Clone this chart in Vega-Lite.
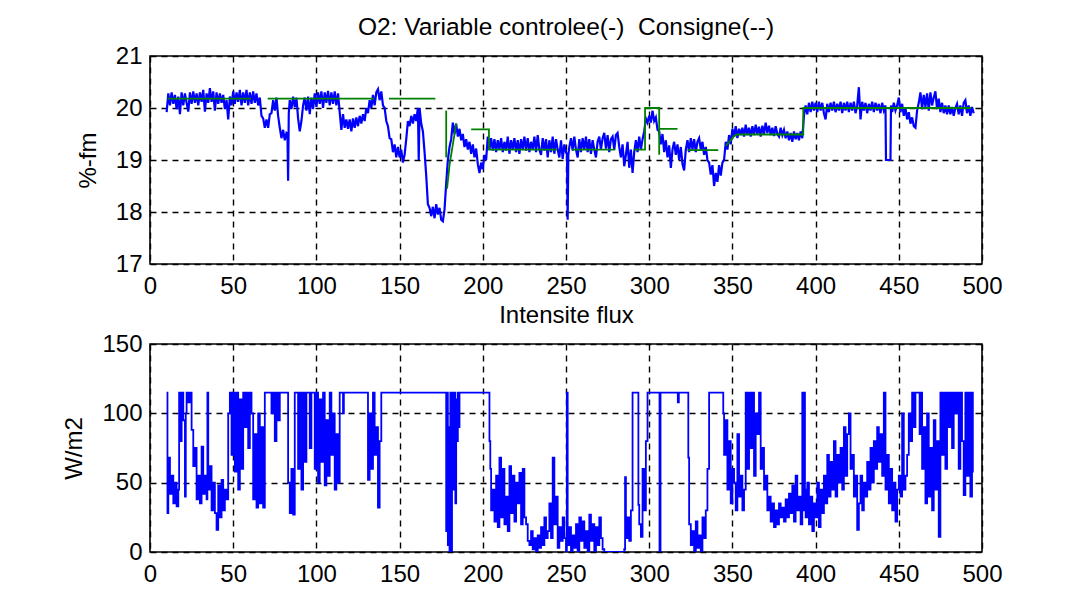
{
  "$schema": "https://vega.github.io/schema/vega-lite/v6.json",
  "background": "white",
  "padding": {"left": 62, "top": 13, "right": 5, "bottom": 5},
  "autosize": {"type": "pad"},
  "config": {
    "font": "Liberation Sans",
    "view": {"stroke": "#000000", "strokeWidth": 1.6},
    "axis": {"domain": false, "ticks": false, "grid": true, "gridColor": "#000000", "gridDash": [6, 5], "gridWidth": 1.4, "gridOpacity": 1, "labelFont": "Liberation Sans", "labelFontSize": 24, "labelColor": "#000000", "labelFlush": false, "labelBound": false, "titleFont": "Liberation Sans", "titleFontSize": 24, "titleFontWeight": "normal", "titleColor": "#000000", "format": "d"},
    "axisX": {"labelPadding": 10, "titlePadding": 5},
    "axisY": {"labelPadding": 8, "titlePadding": 15},
    "title": {"font": "Liberation Sans", "fontSize": 24.5, "fontWeight": "normal", "color": "#000000", "offset": 4, "frame": "group", "anchor": "middle"},
    "concat": {"spacing": 3}
  },
  "datasets": {
    "o2": [
      {"t":10,"v":19.92},{"t":11,"v":20.28},{"t":12,"v":20.05},{"t":13,"v":20.3},{"t":14,"v":20.08},{"t":15,"v":20.25},{"t":16,"v":19.98},{"t":17,"v":20.22},{"t":18,"v":19.88},{"t":19,"v":20.3},
      {"t":20,"v":20.05},{"t":21,"v":20.28},{"t":22,"v":20.1},{"t":23,"v":19.93},{"t":24,"v":20.3},{"t":25,"v":20.08},{"t":26,"v":20.32},{"t":27,"v":20.1},{"t":28,"v":20.28},{"t":29,"v":20.05},
      {"t":30,"v":20.3},{"t":31,"v":20.12},{"t":32,"v":20.35},{"t":33,"v":19.93},{"t":34,"v":20.28},{"t":35,"v":20.1},{"t":36,"v":20.38},{"t":37,"v":20.12},{"t":38,"v":20.32},{"t":39,"v":19.95},
      {"t":40,"v":20.3},{"t":41,"v":20.08},{"t":42,"v":20.28},{"t":43,"v":20.1},{"t":44,"v":20.25},{"t":45,"v":19.98},{"t":46,"v":20.15},{"t":47,"v":19.78},{"t":48,"v":20.22},{"t":49,"v":20.05},
      {"t":50,"v":20.32},{"t":51,"v":20.08},{"t":52,"v":20.3},{"t":53,"v":20.12},{"t":54,"v":20.35},{"t":55,"v":20.05},{"t":56,"v":20.3},{"t":57,"v":20.1},{"t":58,"v":20.35},{"t":59,"v":20.05},
      {"t":60,"v":20.3},{"t":61,"v":20.08},{"t":62,"v":20.32},{"t":63,"v":20.1},{"t":64,"v":20.28},{"t":65,"v":20.05},{"t":66,"v":20.2},{"t":67,"v":19.85},{"t":68,"v":19.8},{"t":69,"v":19.62},
      {"t":70,"v":19.78},{"t":71,"v":19.62},{"t":72,"v":19.88},{"t":73,"v":19.9},{"t":74,"v":20.15},{"t":75,"v":19.95},{"t":76,"v":20.2},{"t":77,"v":19.85},{"t":78,"v":19.62},{"t":79,"v":19.42},
      {"t":80,"v":19.58},{"t":81,"v":19.38},{"t":82,"v":19.52},{"t":82.6,"v":19.5},{"t":83,"v":18.6},{"t":83.4,"v":19.9},{"t":84,"v":20.15},{"t":85,"v":19.98},{"t":86,"v":20.22},{"t":87,"v":20.02},{"t":88,"v":20.2},{"t":89,"v":19.8},
      {"t":90,"v":19.55},{"t":91,"v":19.75},{"t":92,"v":20.05},{"t":93,"v":20.2},{"t":94,"v":19.95},{"t":95,"v":20.22},{"t":96,"v":19.88},{"t":97,"v":20.2},{"t":98,"v":19.98},{"t":99,"v":20.28},
      {"t":100,"v":20.02},{"t":101,"v":20.3},{"t":102,"v":20.08},{"t":103,"v":20.32},{"t":104,"v":20.0},{"t":105,"v":20.3},{"t":106,"v":20.1},{"t":107,"v":20.33},{"t":108,"v":20.05},{"t":109,"v":20.3},
      {"t":110,"v":20.08},{"t":111,"v":20.32},{"t":112,"v":20.05},{"t":113,"v":20.28},{"t":114,"v":19.92},{"t":115,"v":19.58},{"t":116,"v":19.88},{"t":117,"v":19.62},{"t":118,"v":19.78},{"t":119,"v":19.6},
      {"t":120,"v":19.78},{"t":121,"v":19.55},{"t":122,"v":19.8},{"t":123,"v":19.62},{"t":124,"v":19.82},{"t":125,"v":19.65},{"t":126,"v":19.85},{"t":127,"v":19.7},{"t":128,"v":19.88},{"t":129,"v":19.75},
      {"t":130,"v":20.0},{"t":131,"v":19.9},{"t":132,"v":20.15},{"t":133,"v":20.0},{"t":134,"v":20.25},{"t":135,"v":20.05},{"t":136,"v":20.3},{"t":137,"v":20.36},{"t":138,"v":20.15},{"t":139,"v":20.32},
      {"t":140,"v":20.05},{"t":141,"v":20.0},{"t":142,"v":19.75},{"t":143,"v":19.65},{"t":144,"v":19.42},{"t":145,"v":19.4},{"t":146,"v":19.15},{"t":147,"v":19.3},{"t":148,"v":19.05},{"t":149,"v":19.25},
      {"t":150,"v":19.05},{"t":151,"v":19.2},{"t":152,"v":18.95},{"t":153,"v":19.1},{"t":154,"v":19.4},{"t":155,"v":19.75},{"t":156,"v":19.65},{"t":157,"v":19.85},{"t":158,"v":19.7},{"t":159,"v":19.88},
      {"t":160,"v":19.75},{"t":161,"v":20.0},{"t":161.5,"v":19.0},{"t":162,"v":20.0},{"t":163,"v":19.7},{"t":164,"v":19.55},{"t":165,"v":19.15},{"t":166,"v":18.7},{"t":167,"v":18.15},
      {"t":168,"v":18.08},{"t":169,"v":17.92},{"t":170,"v":18.1},{"t":171,"v":17.88},{"t":172,"v":18.15},{"t":173,"v":17.95},{"t":174,"v":18.08},{"t":175,"v":17.85},{"t":176,"v":17.82},{"t":177,"v":18.05},
      {"t":178,"v":18.55},{"t":179,"v":19.0},{"t":180,"v":19.25},{"t":181,"v":19.4},{"t":182,"v":19.72},{"t":183,"v":19.5},{"t":184,"v":19.7},{"t":185,"v":19.45},{"t":186,"v":19.6},{"t":187,"v":19.38},{"t":188,"v":19.5},{"t":189,"v":19.25},
      {"t":190,"v":19.4},{"t":191,"v":19.2},{"t":192,"v":19.35},{"t":193,"v":19.12},{"t":194,"v":19.3},{"t":195,"v":19.05},{"t":196,"v":19.22},{"t":197,"v":18.92},{"t":198,"v":18.75},{"t":199,"v":18.95},
      {"t":200,"v":18.82},{"t":201,"v":19.1},{"t":202,"v":19.0},{"t":203,"v":19.45},{"t":204,"v":19.2},{"t":205,"v":19.42},{"t":206,"v":19.18},{"t":207,"v":19.4},{"t":208,"v":19.15},{"t":209,"v":19.38},
      {"t":210,"v":19.2},{"t":211,"v":19.42},{"t":212,"v":19.15},{"t":213,"v":19.35},{"t":214,"v":19.18},{"t":215,"v":19.45},{"t":216,"v":19.12},{"t":217,"v":19.38},{"t":218,"v":19.2},{"t":219,"v":19.42},
      {"t":220,"v":19.15},{"t":221,"v":19.38},{"t":222,"v":19.12},{"t":223,"v":19.4},{"t":224,"v":19.2},{"t":225,"v":19.45},{"t":226,"v":19.18},{"t":227,"v":19.42},{"t":228,"v":19.15},{"t":229,"v":19.35},
      {"t":230,"v":19.2},{"t":231,"v":19.45},{"t":232,"v":19.15},{"t":233,"v":19.48},{"t":234,"v":19.2},{"t":235,"v":19.1},{"t":236,"v":19.42},{"t":237,"v":19.18},{"t":238,"v":19.4},{"t":239,"v":19.05},
      {"t":240,"v":19.38},{"t":241,"v":19.15},{"t":242,"v":19.45},{"t":243,"v":19.12},{"t":244,"v":19.4},{"t":245,"v":19.2},{"t":246,"v":19.05},{"t":247,"v":19.38},{"t":248,"v":19.02},{"t":249,"v":19.3},
      {"t":250,"v":19.15},{"t":250.6,"v":19.1},{"t":251,"v":17.85},{"t":251.4,"v":19.1},{"t":252,"v":19.25},{"t":253,"v":19.42},{"t":254,"v":19.18},{"t":255,"v":19.45},{"t":256,"v":19.2},{"t":257,"v":19.05},{"t":258,"v":19.4},{"t":259,"v":19.15},
      {"t":260,"v":19.42},{"t":261,"v":19.2},{"t":262,"v":19.45},{"t":263,"v":19.15},{"t":264,"v":19.4},{"t":265,"v":19.12},{"t":266,"v":19.38},{"t":267,"v":19.2},{"t":268,"v":19.05},{"t":269,"v":19.35},
      {"t":270,"v":19.45},{"t":271,"v":19.2},{"t":272,"v":19.42},{"t":273,"v":19.52},{"t":274,"v":19.22},{"t":275,"v":19.48},{"t":276,"v":19.15},{"t":277,"v":19.4},{"t":278,"v":19.45},{"t":279,"v":19.2},
      {"t":280,"v":19.48},{"t":281,"v":19.52},{"t":282,"v":19.25},{"t":283,"v":19.05},{"t":284,"v":19.3},{"t":285,"v":18.88},{"t":286,"v":19.1},{"t":287,"v":19.35},{"t":288,"v":18.85},{"t":289,"v":19.2},
      {"t":290,"v":18.75},{"t":291,"v":19.15},{"t":292,"v":19.38},{"t":293,"v":19.15},{"t":294,"v":19.45},{"t":295,"v":19.2},{"t":296,"v":19.4},{"t":297,"v":19.55},{"t":298,"v":19.8},{"t":299,"v":19.72},
      {"t":300,"v":19.85},{"t":301,"v":19.72},{"t":302,"v":19.95},{"t":303,"v":19.75},{"t":304,"v":19.82},{"t":305,"v":19.58},{"t":306,"v":19.55},{"t":307,"v":19.3},{"t":308,"v":19.5},{"t":309,"v":19.15},
      {"t":310,"v":19.38},{"t":311,"v":19.05},{"t":312,"v":19.28},{"t":313,"v":18.85},{"t":314,"v":19.2},{"t":315,"v":19.35},{"t":316,"v":19.1},{"t":317,"v":19.3},{"t":318,"v":19.0},{"t":319,"v":19.25},
      {"t":320,"v":18.92},{"t":321,"v":18.8},{"t":322,"v":19.2},{"t":323,"v":19.38},{"t":324,"v":19.15},{"t":325,"v":19.42},{"t":326,"v":19.2},{"t":327,"v":19.4},{"t":328,"v":19.15},{"t":329,"v":19.35},
      {"t":330,"v":19.42},{"t":331,"v":19.2},{"t":332,"v":19.35},{"t":333,"v":19.1},{"t":334,"v":19.25},{"t":335,"v":19.0},{"t":336,"v":18.95},{"t":337,"v":18.72},{"t":338,"v":18.9},{"t":339,"v":18.5},
      {"t":340,"v":18.75},{"t":341,"v":18.58},{"t":342,"v":18.9},{"t":343,"v":18.7},{"t":344,"v":18.95},{"t":345,"v":19.0},{"t":346,"v":19.35},{"t":347,"v":19.2},{"t":348,"v":19.48},{"t":349,"v":19.3},
      {"t":350,"v":19.6},{"t":351,"v":19.45},{"t":352,"v":19.65},{"t":353,"v":19.42},{"t":354,"v":19.6},{"t":355,"v":19.48},{"t":356,"v":19.62},{"t":357,"v":19.45},{"t":358,"v":19.68},{"t":359,"v":19.48},
      {"t":360,"v":19.62},{"t":361,"v":19.45},{"t":362,"v":19.65},{"t":363,"v":19.48},{"t":364,"v":19.68},{"t":365,"v":19.5},{"t":366,"v":19.64},{"t":367,"v":19.45},{"t":368,"v":19.66},{"t":369,"v":19.5},
      {"t":370,"v":19.72},{"t":371,"v":19.52},{"t":372,"v":19.66},{"t":373,"v":19.48},{"t":374,"v":19.62},{"t":375,"v":19.46},{"t":376,"v":19.65},{"t":377,"v":19.5},{"t":378,"v":19.45},{"t":379,"v":19.62},
      {"t":380,"v":19.48},{"t":381,"v":19.58},{"t":382,"v":19.42},{"t":383,"v":19.55},{"t":384,"v":19.38},{"t":385,"v":19.52},{"t":386,"v":19.35},{"t":387,"v":19.55},{"t":388,"v":19.4},{"t":389,"v":19.52},
      {"t":390,"v":19.38},{"t":391,"v":19.55},{"t":392,"v":19.42},{"t":393,"v":19.85},{"t":394,"v":20.05},{"t":395,"v":19.88},{"t":396,"v":20.1},{"t":397,"v":19.92},{"t":398,"v":20.12},{"t":399,"v":19.95},
      {"t":400,"v":20.1},{"t":401,"v":19.92},{"t":402,"v":20.12},{"t":403,"v":19.95},{"t":404,"v":20.1},{"t":405,"v":19.9},{"t":406,"v":19.78},{"t":407,"v":20.08},{"t":408,"v":19.92},{"t":409,"v":20.1},
      {"t":410,"v":19.95},{"t":411,"v":20.12},{"t":412,"v":19.92},{"t":413,"v":20.08},{"t":414,"v":19.95},{"t":415,"v":20.12},{"t":416,"v":19.9},{"t":417,"v":20.1},{"t":418,"v":19.95},{"t":419,"v":20.12},
      {"t":420,"v":19.92},{"t":421,"v":20.1},{"t":422,"v":19.95},{"t":423,"v":20.12},{"t":424,"v":19.9},{"t":425,"v":20.05},{"t":426,"v":20.4},{"t":427,"v":19.78},{"t":428,"v":20.12},{"t":429,"v":19.95},
      {"t":430,"v":20.1},{"t":431,"v":19.9},{"t":432,"v":20.08},{"t":433,"v":19.95},{"t":434,"v":20.12},{"t":435,"v":19.92},{"t":436,"v":20.1},{"t":437,"v":19.95},{"t":438,"v":20.08},{"t":439,"v":19.9},
      {"t":440,"v":20.1},{"t":441,"v":19.95},{"t":442,"v":20.05},{"t":442.3,"v":19.0},{"t":445,"v":19.0},{"t":445.3,"v":20.05},{"t":446,"v":19.92},{"t":447,"v":20.1},{"t":448,"v":19.95},{"t":449,"v":20.05},
      {"t":450,"v":20.2},{"t":451,"v":19.92},{"t":452,"v":20.08},{"t":453,"v":19.85},{"t":454,"v":20.0},{"t":455,"v":19.78},{"t":456,"v":19.92},{"t":457,"v":19.7},{"t":458,"v":19.82},{"t":459,"v":19.65},
      {"t":460,"v":19.62},{"t":461,"v":19.95},{"t":462,"v":20.1},{"t":463,"v":20.3},{"t":464,"v":19.98},{"t":465,"v":20.25},{"t":466,"v":20.02},{"t":467,"v":20.28},{"t":468,"v":19.95},{"t":469,"v":20.3},
      {"t":470,"v":20.05},{"t":471,"v":20.2},{"t":472,"v":20.32},{"t":473,"v":19.98},{"t":474,"v":20.18},{"t":475,"v":19.92},{"t":476,"v":20.1},{"t":477,"v":19.9},{"t":478,"v":20.05},{"t":479,"v":19.88},
      {"t":480,"v":20.05},{"t":481,"v":19.88},{"t":482,"v":20.02},{"t":483,"v":19.85},{"t":484,"v":20.0},{"t":485,"v":20.08},{"t":486,"v":19.88},{"t":487,"v":20.05},{"t":488,"v":19.85},{"t":489,"v":20.1},
      {"t":490,"v":20.15},{"t":491,"v":19.9},{"t":492,"v":20.05},{"t":493,"v":19.85},{"t":494,"v":20.02},{"t":495,"v":19.9}
    ],
    "sp": [
      {"seg":1,"i":1,"t":10.5,"v":20.18},{"seg":1,"i":2,"t":60.7,"v":20.18},
      {"seg":2,"i":3,"t":70.7,"v":20.18},{"seg":2,"i":4,"t":134.6,"v":20.18},
      {"seg":3,"i":5,"t":143.6,"v":20.18},{"seg":3,"i":6,"t":171.5,"v":20.18},
      {"seg":4,"i":7,"t":178,"v":19.95},{"seg":4,"i":8,"t":178,"v":19.05},
      {"seg":5,"i":9,"t":178.5,"v":18.45},{"seg":5,"i":10,"t":180,"v":18.9},{"seg":5,"i":11,"t":182,"v":19.3},{"seg":5,"i":12,"t":184,"v":19.7},
      {"seg":6,"i":13,"t":193,"v":19.59},{"seg":6,"i":14,"t":203.7,"v":19.59},{"seg":6,"i":15,"t":203.7,"v":19.2},{"seg":6,"i":16,"t":244.5,"v":19.2},
      {"seg":7,"i":17,"t":253.6,"v":19.2},{"seg":7,"i":18,"t":279.6,"v":19.2},
      {"seg":8,"i":19,"t":291,"v":19.2},{"seg":8,"i":20,"t":297.5,"v":19.2},{"seg":8,"i":21,"t":297.5,"v":20.0},{"seg":8,"i":22,"t":306,"v":20.0},{"seg":8,"i":23,"t":306,"v":19.1},{"seg":8,"i":24,"t":306,"v":19.6},{"seg":8,"i":25,"t":317,"v":19.6},
      {"seg":9,"i":26,"t":323,"v":19.19},{"seg":9,"i":27,"t":341.5,"v":19.19},
      {"seg":10,"i":28,"t":346,"v":19.27},{"seg":10,"i":29,"t":351,"v":19.46},{"seg":10,"i":30,"t":353,"v":19.49},{"seg":10,"i":31,"t":392.6,"v":19.49},{"seg":10,"i":32,"t":392.6,"v":20.0},{"seg":10,"i":33,"t":493.5,"v":20.0}
    ],
    "flux": [
      {"t":10,"v":115},{"t":10.5,"v":28},{"t":11,"v":68},{"t":12,"v":42},{"t":13,"v":55},{"t":14,"v":35},{"t":15,"v":50},{"t":16,"v":33},{"t":17,"v":45},{"t":17.5,"v":115},{"t":18,"v":80},{"t":19,"v":115},
      {"t":20,"v":95},{"t":21,"v":40},{"t":21.5,"v":100},{"t":22,"v":115},{"t":23,"v":108},{"t":24,"v":115},{"t":25,"v":88},{"t":26,"v":62},{"t":27,"v":75},{"t":28,"v":38},{"t":29,"v":55},
      {"t":30,"v":35},{"t":31,"v":76},{"t":32,"v":42},{"t":33,"v":55},{"t":34,"v":38},{"t":34.5,"v":115},{"t":35,"v":45},{"t":36,"v":62},{"t":37,"v":30},{"t":38,"v":50},{"t":39,"v":28},
      {"t":40,"v":16},{"t":41,"v":48},{"t":42,"v":25},{"t":43,"v":52},{"t":44,"v":30},{"t":45,"v":45},{"t":46,"v":38},{"t":47,"v":100},{"t":48,"v":115},{"t":49,"v":70},
      {"t":50,"v":115},{"t":51,"v":58},{"t":52,"v":115},{"t":53,"v":45},{"t":54,"v":110},{"t":55,"v":60},{"t":56,"v":115},{"t":57,"v":90},{"t":58,"v":115},{"t":59,"v":75},
      {"t":60,"v":115},{"t":61,"v":100},{"t":62,"v":38},{"t":63,"v":85},{"t":64,"v":32},{"t":65,"v":100},{"t":66,"v":35},{"t":67,"v":90},{"t":68,"v":32},{"t":69,"v":115},
      {"t":73,"v":100},{"t":74,"v":115},{"t":75,"v":80},{"t":76,"v":115},{"t":77,"v":95},{"t":78,"v":115},{"t":83,"v":50},{"t":84,"v":28},{"t":85,"v":60},{"t":86,"v":27},{"t":87,"v":115},{"t":89,"v":60},
      {"t":90,"v":115},{"t":91,"v":45},{"t":92,"v":115},{"t":93,"v":65},{"t":94,"v":115},{"t":96,"v":75},{"t":97,"v":115},{"t":99,"v":60},
      {"t":100,"v":115},{"t":101,"v":50},{"t":102,"v":110},{"t":103,"v":65},{"t":104,"v":115},{"t":105,"v":48},{"t":106,"v":95},{"t":107,"v":55},{"t":108,"v":115},{"t":109,"v":70},
      {"t":110,"v":100},{"t":111,"v":45},{"t":112,"v":85},{"t":113,"v":50},{"t":114,"v":115},{"t":116,"v":100},{"t":116.5,"v":115},
      {"t":131,"v":52},{"t":132,"v":100},{"t":133,"v":60},{"t":134,"v":115},{"t":135,"v":70},{"t":136,"v":90},{"t":137,"v":32},{"t":138,"v":80},{"t":139,"v":115},
      {"t":178,"v":15},{"t":178.5,"v":115},{"t":179,"v":5},{"t":179.5,"v":90},{"t":180,"v":0},{"t":180.5,"v":115},{"t":181,"v":0},{"t":181.5,"v":60},{"t":182,"v":115},{"t":182.5,"v":45},{"t":183,"v":115},{"t":183.5,"v":35},{"t":184,"v":110},{"t":184.5,"v":80},{"t":185,"v":115},{"t":185.5,"v":90},{"t":186,"v":115},
      {"t":204,"v":80},{"t":204.5,"v":60},{"t":205,"v":30},{"t":206,"v":45},{"t":207,"v":22},{"t":208,"v":55},{"t":209,"v":18},
      {"t":210,"v":68},{"t":211,"v":25},{"t":212,"v":60},{"t":213,"v":20},{"t":214,"v":40},{"t":215,"v":15},{"t":216,"v":62},{"t":217,"v":28},{"t":218,"v":55},{"t":219,"v":22},
      {"t":220,"v":50},{"t":221,"v":35},{"t":222,"v":57},{"t":223,"v":20},{"t":224,"v":60},{"t":225,"v":25},{"t":226,"v":20},{"t":227,"v":8},{"t":228,"v":5},{"t":229,"v":15},
      {"t":230,"v":2},{"t":231,"v":10},{"t":232,"v":0},{"t":233,"v":12},{"t":234,"v":3},{"t":235,"v":18},{"t":236,"v":5},{"t":237,"v":25},{"t":238,"v":10},{"t":239,"v":15},
      {"t":240,"v":35},{"t":241,"v":10},{"t":242,"v":68},{"t":243,"v":20},{"t":244,"v":40},{"t":245,"v":3},{"t":246,"v":18},{"t":247,"v":8},{"t":248,"v":25},{"t":249,"v":10},
      {"t":250,"v":0},{"t":250.5,"v":115},{"t":251,"v":5},{"t":252,"v":18},{"t":253,"v":0},{"t":254,"v":12},{"t":255,"v":3},{"t":256,"v":20},{"t":257,"v":0},{"t":258,"v":25},{"t":259,"v":8},
      {"t":260,"v":22},{"t":261,"v":3},{"t":262,"v":15},{"t":263,"v":0},{"t":264,"v":27},{"t":265,"v":8},{"t":266,"v":20},{"t":267,"v":0},{"t":268,"v":18},{"t":269,"v":5},
      {"t":270,"v":25},{"t":271,"v":10},{"t":272,"v":2},{"t":273,"v":0},{"t":285,"v":2},{"t":285.5,"v":54},{"t":286,"v":10},{"t":287,"v":25},{"t":288,"v":8},{"t":289,"v":30},
      {"t":290,"v":115},{"t":293.5,"v":34},{"t":294,"v":20},{"t":295,"v":11},{"t":296,"v":60},{"t":297,"v":30},{"t":298,"v":80},{"t":299,"v":115},
      {"t":306.2,"v":0},{"t":306.8,"v":115},{"t":317.2,"v":108},{"t":317.8,"v":115},
      {"t":323.5,"v":68},{"t":324,"v":20},{"t":325,"v":5},{"t":326,"v":15},{"t":327,"v":0},{"t":328,"v":22},{"t":329,"v":3},
      {"t":330,"v":12},{"t":331,"v":0},{"t":332,"v":25},{"t":333,"v":10},{"t":334,"v":30},{"t":335,"v":60},{"t":336,"v":115},
      {"t":344.5,"v":100},{"t":345,"v":70},{"t":346,"v":95},{"t":347,"v":45},{"t":348,"v":80},{"t":349,"v":35},
      {"t":350,"v":60},{"t":351,"v":50},{"t":352,"v":30},{"t":353,"v":85},{"t":354,"v":40},{"t":355,"v":55},{"t":356,"v":30},{"t":357,"v":45},{"t":358,"v":115},{"t":359,"v":60},
      {"t":360,"v":115},{"t":361,"v":75},{"t":362,"v":115},{"t":363,"v":55},{"t":364,"v":100},{"t":365,"v":85},{"t":366,"v":115},{"t":367,"v":60},{"t":368,"v":75},{"t":369,"v":45},
      {"t":370,"v":55},{"t":371,"v":30},{"t":372,"v":40},{"t":373,"v":22},{"t":374,"v":35},{"t":375,"v":18},{"t":376,"v":30},{"t":377,"v":20},{"t":378,"v":35},{"t":379,"v":25},
      {"t":380,"v":32},{"t":381,"v":22},{"t":382,"v":38},{"t":383,"v":25},{"t":384,"v":42},{"t":385,"v":28},{"t":386,"v":48},{"t":387,"v":22},{"t":388,"v":55},{"t":389,"v":30},
      {"t":390,"v":40},{"t":391,"v":20},{"t":392,"v":115},{"t":392.7,"v":30},{"t":393,"v":115},{"t":393.6,"v":45},{"t":394,"v":25},{"t":395,"v":50},{"t":396,"v":20},{"t":397,"v":40},{"t":398,"v":15},{"t":399,"v":35},
      {"t":400,"v":25},{"t":401,"v":50},{"t":402,"v":18},{"t":403,"v":45},{"t":404,"v":28},{"t":405,"v":55},{"t":406,"v":35},{"t":407,"v":70},{"t":408,"v":40},{"t":409,"v":65},
      {"t":410,"v":45},{"t":411,"v":80},{"t":412,"v":40},{"t":413,"v":70},{"t":414,"v":50},{"t":415,"v":75},{"t":416,"v":45},{"t":417,"v":90},{"t":418,"v":55},{"t":419,"v":85},
      {"t":420,"v":100},{"t":421,"v":60},{"t":422,"v":70},{"t":423,"v":40},{"t":424,"v":55},{"t":425,"v":16},{"t":426,"v":35},{"t":427,"v":55},{"t":428,"v":30},{"t":429,"v":50},
      {"t":430,"v":40},{"t":431,"v":65},{"t":432,"v":45},{"t":433,"v":75},{"t":434,"v":50},{"t":435,"v":80},{"t":436,"v":60},{"t":437,"v":90},{"t":438,"v":65},{"t":439,"v":85},
      {"t":440,"v":55},{"t":441,"v":115},{"t":442,"v":45},{"t":443,"v":70},{"t":444,"v":35},{"t":445,"v":60},{"t":446,"v":30},{"t":447,"v":50},{"t":448,"v":22},{"t":449,"v":45},
      {"t":450,"v":55},{"t":451,"v":40},{"t":452,"v":100},{"t":453,"v":45},{"t":454,"v":55},{"t":455,"v":70},{"t":456,"v":100},{"t":457,"v":80},{"t":458,"v":115},{"t":459,"v":90},
      {"t":460,"v":115},{"t":462.5,"v":85},{"t":463,"v":115},{"t":464,"v":60},{"t":465,"v":90},{"t":466,"v":35},{"t":467,"v":100},{"t":468,"v":40},{"t":469,"v":75},
      {"t":470,"v":30},{"t":471,"v":95},{"t":472,"v":45},{"t":473,"v":80},{"t":474,"v":11},{"t":475,"v":115},{"t":476,"v":70},{"t":477,"v":115},{"t":478,"v":60},{"t":479,"v":115},
      {"t":480,"v":90},{"t":481,"v":115},{"t":482,"v":75},{"t":483,"v":115},{"t":484,"v":100},{"t":485,"v":115},{"t":486,"v":60},{"t":487,"v":115},{"t":488,"v":80},{"t":489,"v":41},
      {"t":490,"v":115},{"t":491,"v":55},{"t":492,"v":115},{"t":493,"v":40},{"t":494,"v":115},{"t":494.5,"v":58},{"t":495,"v":58}
    ]
  },
  "vconcat": [
    {
      "width": 832,
      "height": 208,
      "title": {"text": "O2: Variable controlee(-)\u00a0 Consigne(--)"},
      "layer": [
        {
          "data": {"name": "o2"},
          "mark": {"type": "line", "color": "#0000FF", "strokeWidth": 2.2, "clip": true},
          "encoding": {
            "x": {"field": "t", "type": "quantitative", "scale": {"domain": [0, 500], "nice": false}, "axis": {"values": [0, 50, 100, 150, 200, 250, 300, 350, 400, 450, 500], "title": "Intensite flux"}},
            "y": {"field": "v", "type": "quantitative", "scale": {"domain": [17, 21], "nice": false, "zero": false}, "axis": {"values": [17, 18, 19, 20, 21], "title": "%-fm"}}
          }
        },
        {
          "data": {"name": "sp"},
          "mark": {"type": "line", "color": "#008000", "strokeWidth": 1.8, "clip": true},
          "encoding": {
            "x": {"field": "t", "type": "quantitative"},
            "y": {"field": "v", "type": "quantitative"},
            "detail": {"field": "seg", "type": "nominal"},
            "order": {"field": "i", "type": "quantitative"}
          }
        }
      ]
    },
    {
      "width": 832,
      "height": 208,
      "data": {"name": "flux"},
      "mark": {"type": "line", "color": "#0000FF", "strokeWidth": 1.8, "interpolate": "step-after", "clip": true},
      "encoding": {
        "x": {"field": "t", "type": "quantitative", "scale": {"domain": [0, 500], "nice": false}, "axis": {"values": [0, 50, 100, 150, 200, 250, 300, 350, 400, 450, 500], "title": null}},
        "y": {"field": "v", "type": "quantitative", "scale": {"domain": [0, 150], "nice": false}, "axis": {"values": [0, 50, 100, 150], "title": "W/m2"}}
      }
    }
  ]
}
